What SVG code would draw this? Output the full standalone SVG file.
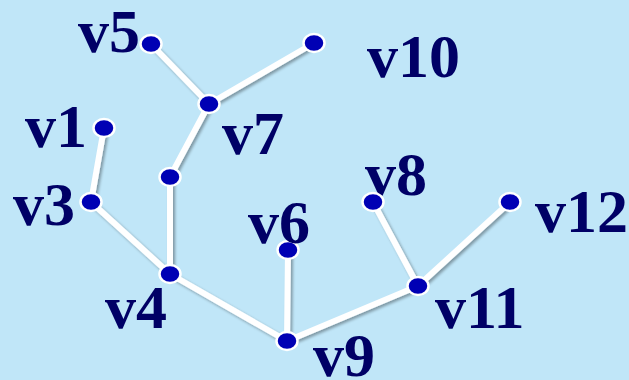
<svg xmlns="http://www.w3.org/2000/svg" width="629" height="380" viewBox="0 0 629 380">
<defs>
<filter id="sh" x="-20%" y="-20%" width="140%" height="140%">
<feGaussianBlur in="SourceAlpha" stdDeviation="1.5"/>
<feOffset dx="2" dy="2" result="b"/>
<feComponentTransfer><feFuncA type="linear" slope="0.35"/></feComponentTransfer>
<feMerge><feMergeNode/><feMergeNode in="SourceGraphic"/></feMerge>
</filter>
<style>
.e{stroke:#ffffff;stroke-width:6;fill:none;stroke-linecap:round}
.n{fill:#0000b4;stroke:#ffffff;stroke-width:2.5}
.t{font-family:"Liberation Serif","Times New Roman",serif;font-weight:bold;font-size:62px;fill:#000066}
</style>
</defs>
<rect width="629" height="380" fill="#c0e6f8"/>
<g id="connectors" filter="url(#sh)">
<line class="e" x1="151" y1="44" x2="209" y2="104"/>
<line class="e" x1="314" y1="43" x2="209" y2="104"/>
<line class="e" x1="209" y1="104" x2="170" y2="177"/>
<line class="e" x1="170" y1="177" x2="170" y2="274"/>
<line class="e" x1="104" y1="128" x2="91" y2="202"/>
<line class="e" x1="91" y1="202" x2="170" y2="274"/>
<line class="e" x1="170" y1="274" x2="287" y2="341"/>
<line class="e" x1="288" y1="250" x2="287" y2="341"/>
<line class="e" x1="287" y1="341" x2="418" y2="286"/>
<line class="e" x1="373" y1="202" x2="418" y2="286"/>
<line class="e" x1="510" y1="202" x2="418" y2="286"/>
</g>
<g id="v5"><ellipse class="n" cx="151" cy="44" rx="10.5" ry="9"/><text class="t" x="78" y="52">v5</text></g>
<g id="v10"><ellipse class="n" cx="314" cy="43" rx="10.5" ry="9"/><text class="t" x="367" y="77">v10</text></g>
<g id="v7"><ellipse class="n" cx="209" cy="104" rx="10.5" ry="9"/><text class="t" x="222" y="154">v7</text></g>
<g id="v1"><ellipse class="n" cx="104" cy="128" rx="10.5" ry="9"/><text class="t" x="25" y="147">v1</text></g>
<g id="n0"><ellipse class="n" cx="170" cy="177" rx="10.5" ry="9"/></g>
<g id="v3"><ellipse class="n" cx="91" cy="202" rx="10.5" ry="9"/><text class="t" x="13" y="225">v3</text></g>
<g id="v4"><ellipse class="n" cx="170" cy="274" rx="10.5" ry="9"/><text class="t" x="105" y="328">v4</text></g>
<g id="v6"><ellipse class="n" cx="288" cy="250" rx="10.5" ry="9"/><text class="t" x="248" y="243">v6</text></g>
<g id="v9"><ellipse class="n" cx="287" cy="341" rx="10.5" ry="9"/><text class="t" x="313" y="376">v9</text></g>
<g id="v8"><text class="t" x="365" y="195">v8</text><ellipse class="n" cx="373" cy="202" rx="10.5" ry="9"/></g>
<g id="v12"><ellipse class="n" cx="510" cy="202" rx="10.5" ry="9"/><text class="t" x="535" y="232">v12</text></g>
<g id="v11"><ellipse class="n" cx="418" cy="286" rx="10.5" ry="9"/><text class="t" x="435" y="328">v11</text></g>
</svg>
